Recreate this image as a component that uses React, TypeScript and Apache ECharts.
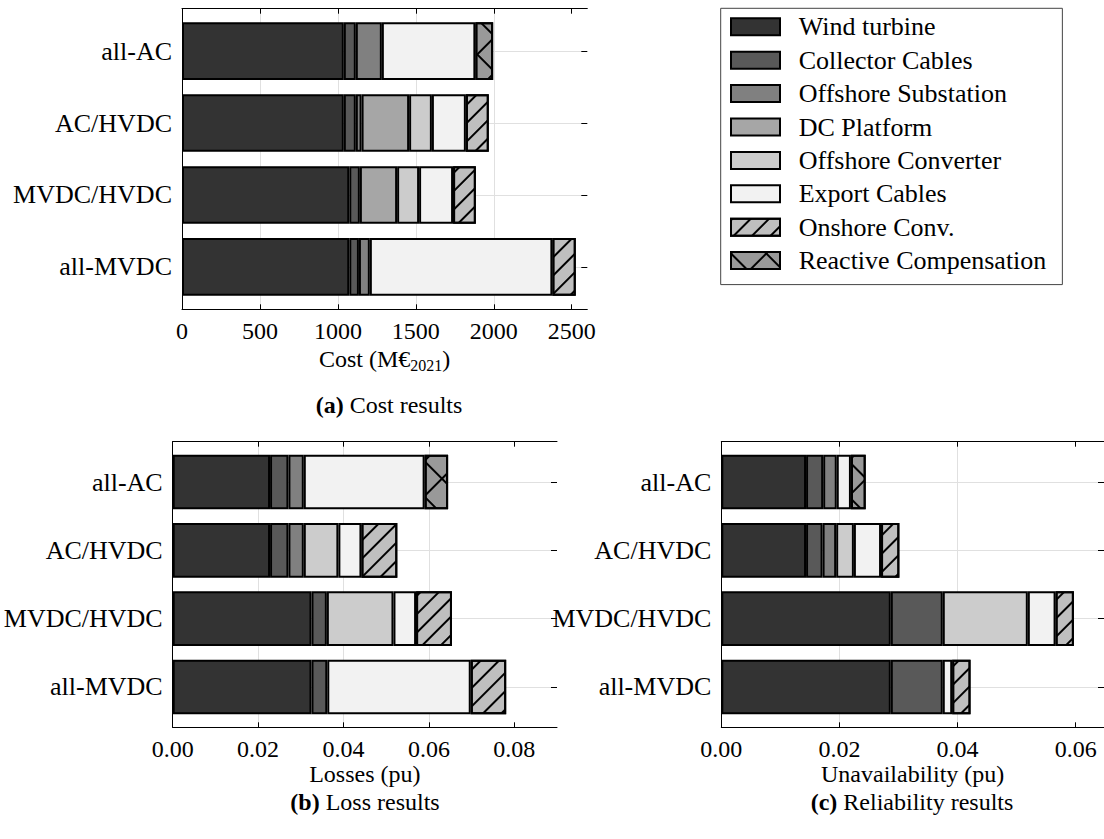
import React, { useEffect, useRef } from 'react';
import * as echarts from 'echarts';

// ---------- data ----------
const categories = ['all-AC', 'AC/HVDC', 'MVDC/HVDC', 'all-MVDC'];
const components = [
  'Wind turbine',
  'Collector Cables',
  'Offshore Substation',
  'DC Platform',
  'Offshore Converter',
  'Export Cables',
  'Onshore Conv.',
  'Reactive Compensation',
];

// (a) Cost, M€2021 — order follows categories
const costWind = [1038, 1038, 1073, 1073];
const costCollector = [77, 77, 68, 62];
const costSubstation = [167, 37, 0, 70];
const costDcPlatform = [0, 305, 239, 0];
const costConverter = [0, 146, 141, 0];
const costExport = [600, 218, 218, 1171];
const costOnshore = [0, 147, 146, 150];
const costReactive = [114, 0, 0, 0];

// (b) Losses, pu
const lossWind = [0.0228, 0.0228, 0.0325, 0.0325];
const lossCollector = [0.0043, 0.0043, 0.0036, 0.0037];
const lossSubstation = [0.0036, 0.0036, 0, 0];
const lossDcPlatform = [0, 0, 0, 0];
const lossConverter = [0, 0.0081, 0.0156, 0];
const lossExport = [0.0283, 0.0054, 0.0053, 0.0336];
const lossOnshore = [0, 0.0084, 0.0084, 0.0083];
const lossReactive = [0.0055, 0, 0, 0];

// (c) Unavailability, pu
const relWind = [0.01435, 0.01435, 0.0287, 0.0287];
const relCollector = [0.0029, 0.0028, 0.0088, 0.0088];
const relSubstation = [0.0023, 0.0023, 0, 0];
const relDcPlatform = [0, 0, 0, 0];
const relConverter = [0, 0.003, 0.0144, 0];
const relExport = [0.0024, 0.0046, 0.0047, 0.0016];
const relOnshore = [0, 0.0031, 0.0031, 0.0031];
const relReactive = [0.0025, 0, 0, 0];

const costTicks = [0, 500, 1000, 1500, 2000, 2500];
const lossTicks = [0, 0.02, 0.04, 0.06, 0.08];
const relTicks = [0, 0.02, 0.04, 0.06];

// ---------- styles ----------
const FONT = "'Liberation Serif', 'Times New Roman', serif";
const fills = ['#333333', '#595959', '#808080', '#a6a6a6', '#cccccc', '#f2f2f2', '#bfbfbf', '#999999'];
const GRIDLINE = '#e0e0e0';

const hatchSlash = {
  symbol: 'rect',
  symbolSize: 1,
  color: '#000',
  dashArrayX: [1, 0],
  dashArrayY: [2, 11],
  rotation: -Math.PI / 4,
};
const hatchCross = {
  symbol: 'rect',
  symbolSize: 1,
  color: '#000',
  dashArrayX: [[1, 0], [2, 23]],
  dashArrayY: [2, 0, 23, 0],
  rotation: Math.PI / 4,
};

type Panel = {
  values: number[][];
  frame: { left: number; top: number; width: number; height: number };
  max: number;
  interval: number;
  ticks: number[];
  decimals: number;
  name: string;
  nameGap: number;
};

const panels: Panel[] = [
  {
    values: [costWind, costCollector, costSubstation, costDcPlatform, costConverter, costExport, costOnshore, costReactive],
    frame: { left: 182, top: 8.7, width: 405.3, height: 300.6 },
    max: 2600,
    interval: 500,
    ticks: costTicks,
    decimals: 0,
    name: 'Cost (M€{s|2021})',
    nameGap: 36,
  },
  {
    values: [lossWind, lossCollector, lossSubstation, lossDcPlatform, lossConverter, lossExport, lossOnshore, lossReactive],
    frame: { left: 172.7, top: 441.7, width: 384.3, height: 285.6 },
    max: 0.09,
    interval: 0.02,
    ticks: lossTicks,
    decimals: 2,
    name: 'Losses (pu)',
    nameGap: 32,
  },
  {
    values: [relWind, relCollector, relSubstation, relDcPlatform, relConverter, relExport, relOnshore, relReactive],
    frame: { left: 721.3, top: 441.7, width: 382.7, height: 285.6 },
    max: 0.0648,
    interval: 0.02,
    ticks: relTicks,
    decimals: 2,
    name: 'Unavailability (pu)',
    nameGap: 32,
  },
];

function buildOption() {
  const grid: any[] = [];
  const xAxis: any[] = [];
  const yAxis: any[] = [];
  const series: any[] = [];

  panels.forEach((p, pi) => {
    const f = p.frame;
    const band = f.height / 4.18;
    grid.push({ left: f.left, top: f.top, width: f.width, height: f.height, containLabel: false });
    grid.push({ left: f.left, top: f.top + 0.09 * band, width: f.width, height: 4 * band, containLabel: false });
    const gFrame = pi * 2;
    const gBar = pi * 2 + 1;

    xAxis.push({
      type: 'value',
      gridIndex: gFrame,
      position: 'bottom',
      min: 0,
      max: p.max,
      interval: p.interval,
      axisLine: { show: true, lineStyle: { color: '#000', width: 1 } },
      axisTick: { show: true, inside: true, length: 5, lineStyle: { color: '#000' }, customValues: p.ticks },
      axisLabel: {
        show: true,
        customValues: p.ticks,
        formatter: (v: number) => v.toFixed(p.decimals),
        fontFamily: FONT,
        fontSize: 24,
        color: '#000',
        margin: 10,
      },
      splitLine: { show: true, showMinLine: false, showMaxLine: false, lineStyle: { color: GRIDLINE, width: 1 } },
      name: p.name,
      nameLocation: 'middle',
      nameGap: p.nameGap,
      nameTextStyle: {
        fontFamily: FONT,
        fontSize: 24,
        color: '#000',
        rich: {
          s: { fontFamily: FONT, fontSize: 16, color: '#000', padding: [12, 0, 0, 0], verticalAlign: 'bottom' },
        },
      },
    });
    xAxis.push({
      type: 'value',
      gridIndex: gFrame,
      position: 'top',
      min: 0,
      max: p.max,
      interval: p.interval,
      axisLine: { show: true, lineStyle: { color: '#000', width: 1 } },
      axisTick: { show: true, inside: true, length: 5, lineStyle: { color: '#000' }, customValues: p.ticks },
      axisLabel: { show: false },
      splitLine: { show: false },
    });
    xAxis.push({ type: 'value', gridIndex: gBar, min: 0, max: p.max, show: false });

    yAxis.push({
      type: 'value',
      gridIndex: gFrame,
      min: 0,
      max: 1,
      position: 'left',
      axisLine: { show: true, onZero: false, lineStyle: { color: '#000', width: 1 } },
      axisTick: { show: false },
      axisLabel: { show: false },
      splitLine: { show: false },
    });
    yAxis.push({
      type: 'category',
      gridIndex: gBar,
      data: categories,
      inverse: true,
      position: 'left',
      axisLine: { show: false },
      axisTick: { show: false },
      axisLabel: { fontFamily: FONT, fontSize: 26, color: '#000', margin: 10 },
      splitLine: { show: false },
    });
    yAxis.push({
      type: 'category',
      gridIndex: gBar,
      data: categories,
      inverse: true,
      position: 'right',
      axisLine: { show: false },
      axisTick: { show: true, inside: true, alignWithLabel: true, length: 6, lineStyle: { color: '#000' } },
      axisLabel: { show: false },
      splitLine: { show: true, alignWithLabel: true, lineStyle: { color: GRIDLINE, width: 1 } },
    });

    components.forEach((name, ci) => {
      const decal = ci === 6 ? hatchSlash : ci === 7 ? hatchCross : undefined;
      series.push({
        type: 'bar',
        name,
        xAxisIndex: pi * 3 + 2,
        yAxisIndex: pi * 3 + 1,
        stack: 'panel' + pi,
        barWidth: '80%',
        data: p.values[ci].map((v) => (v === 0 ? '-' : v)),
        itemStyle: {
          color: fills[ci],
          borderColor: '#000',
          borderWidth: 2,
          ...(decal ? { decal } : {}),
        },
        emphasis: { disabled: true },
      });
    });
  });

  const caption = (x: number, y: number, tag: string, label: string) => ({
    type: 'text',
    x,
    y,
    style: {
      text: `{b|${tag}} ${label}`,
      rich: { b: { fontFamily: FONT, fontSize: 24, fontWeight: 'bold', fill: '#000' } },
      fontFamily: FONT,
      fontSize: 24,
      fill: '#000',
      align: 'center',
      verticalAlign: 'middle',
    },
  });

  return {
    animation: false,
    backgroundColor: '#fff',
    grid,
    xAxis,
    yAxis,
    series,
    legend: {
      data: components,
      orient: 'vertical',
      left: 720.7,
      top: 8.3,
      icon: 'rect',
      itemWidth: 49,
      itemHeight: 17,
      itemGap: 7.4,
      padding: [5.5, 16, 11, 9.3],
      borderColor: '#444',
      borderWidth: 1,
      selectedMode: false,
      textStyle: { fontFamily: FONT, fontSize: 26, color: '#000', padding: [0, 0, 0, 13.7] },
    },
    graphic: [
      caption(389, 405, '(a)', 'Cost results'),
      caption(365, 802, '(b)', 'Loss results'),
      caption(912, 802, '(c)', 'Reliability results'),
    ],
  };
}

export default function App() {
  const ref = useRef<HTMLDivElement>(null);
  useEffect(() => {
    document.body.style.margin = '0';
    const chart = echarts.init(ref.current!, null, { renderer: 'svg' });
    chart.setOption(buildOption() as any);
    return () => chart.dispose();
  }, []);
  return (
    <div
      ref={ref}
      style={{ position: 'absolute', left: 0, top: 0, width: 1104, height: 839, background: '#fff' }}
    />
  );
}
